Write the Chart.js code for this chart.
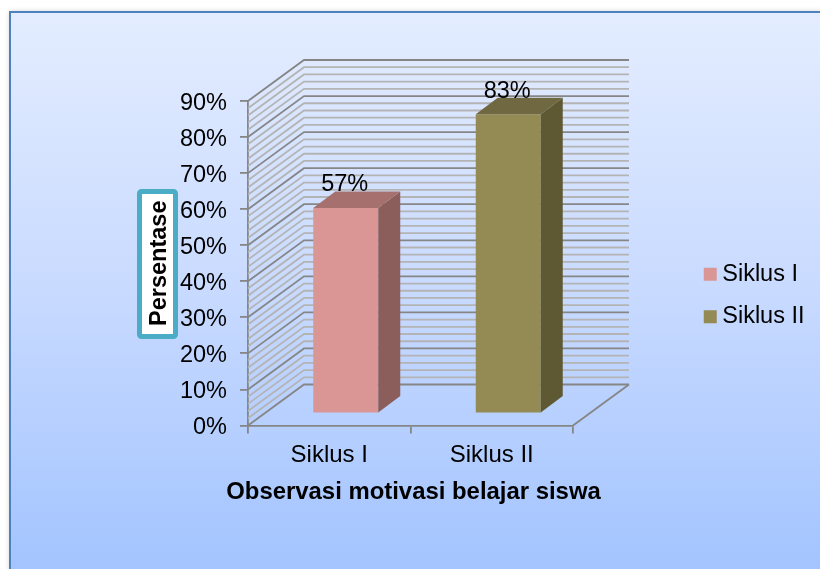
<!DOCTYPE html>
<html><head><meta charset="utf-8">
<style>html,body{margin:0;padding:0;background:#fff}canvas{display:block}</style>
<script src="https://cdn.jsdelivr.net/npm/chart.js@4"></script>
</head><body><canvas id="c" width="820" height="569"></canvas>
<script>
const categories = ["Siklus I", "Siklus II"];
const values = [57, 83];
const frontColors = ["#d99694", "#948a54"];
const sideColors = ["#8b5e5c", "#5e5833"];
const topColors = ["#a5706d", "#6f6840"];
const yAxisTitle = "Persentase";
const xAxisTitle = "Observasi motivasi belajar siswa";
const FONT = "'Liberation Sans', Arial, sans-serif";
const SIZE = 23.5;
const WALL = {dx: 56, dy: -41};
const BAR = {shiftX: 16.5, shiftY: -12, dx: 22, dy: -16.5};

const frame = {
  id: 'frame',
  beforeDraw(chart) {
    const c = chart.ctx;
    c.save();
    c.fillStyle = '#fff'; c.fillRect(0, 0, 820, 569);
    c.shadowColor = 'rgba(0,0,0,.25)'; c.shadowBlur = 5;
    const g = c.createLinearGradient(0, 12, 0, 569);
    g.addColorStop(0, '#e4edff'); g.addColorStop(0.5, '#c8daff'); g.addColorStop(1, '#a3c4ff');
    c.fillStyle = g; c.fillRect(10, 12, 830, 580);
    c.shadowColor = 'transparent';
    c.strokeStyle = '#4f81bd'; c.lineWidth = 2; c.strokeRect(10, 12, 830, 580);
    // axis title box
    c.fillStyle = '#fff'; c.strokeStyle = '#4bacc6'; c.lineWidth = 5;
    c.beginPath(); c.roundRect(139.5, 191.5, 36, 145, 2); c.fill(); c.stroke();
    c.restore();
  }
};
const walls = {
  id: 'walls',
  beforeDatasetsDraw(chart) {
    const c = chart.ctx, y = chart.scales.y, a = chart.chartArea;
    c.save();
    for (let v = 90; v >= 0; v -= 2) {
      const major = v % 10 === 0, p = y.getPixelForValue(v);
      c.strokeStyle = major ? '#868686' : '#b4b4b4';
      c.lineWidth = 1.8;
      c.beginPath();
      c.moveTo(a.left, p);
      c.lineTo(a.left + WALL.dx, p + WALL.dy);
      c.lineTo(a.right + WALL.dx, p + WALL.dy);
      c.stroke();
    }
    c.strokeStyle = '#868686'; c.lineWidth = 1.8;
    c.beginPath(); c.moveTo(a.right, a.bottom); c.lineTo(a.right + WALL.dx, a.bottom + WALL.dy); c.stroke();
    c.restore();
  },
  beforeDatasetDraw(chart) { chart.ctx.save(); chart.ctx.translate(BAR.shiftX, BAR.shiftY); },
  afterDatasetDraw(chart) {
    const c = chart.ctx;
    chart.getDatasetMeta(0).data.forEach((b, i) => {
      const l = b.x - b.width / 2, r = b.x + b.width / 2;
      c.fillStyle = sideColors[i];
      c.beginPath(); c.moveTo(r, b.y); c.lineTo(r + BAR.dx, b.y + BAR.dy); c.lineTo(r + BAR.dx, b.base + BAR.dy); c.lineTo(r, b.base); c.closePath(); c.fill();
      c.fillStyle = topColors[i];
      c.beginPath(); c.moveTo(l, b.y); c.lineTo(l + BAR.dx, b.y + BAR.dy); c.lineTo(r + BAR.dx, b.y + BAR.dy); c.lineTo(r, b.y); c.closePath(); c.fill();
    });
    c.restore();
  },
  afterDatasetsDraw(chart) {
    const c = chart.ctx;
    c.save();
    c.font = SIZE + 'px ' + FONT; c.fillStyle = '#000'; c.textAlign = 'center'; c.textBaseline = 'alphabetic';
    chart.getDatasetMeta(0).data.forEach((b, i) => {
      c.fillText(values[i] + '%', b.x + BAR.shiftX - 1, b.y + BAR.shiftY + BAR.dy);
    });
    c.restore();
  },
  afterLayout(chart) {
    const L = chart.legend;
    L.left = 691; L.right = 820; L.top = 243.5; L.bottom = 420;
    // the x axis title is wider than the axis: give it room so it is not squeezed
    const x = chart.scales.x, orig = x.drawTitle;
    x.drawTitle = function () {
      const l = this.left, r = this.right;
      this.left = l - 37; this.right = r + 43;
      orig.call(this);
      this.left = l; this.right = r;
    };
  }
};

new Chart(document.getElementById('c'), {
  type: 'bar',
  data: { labels: categories, datasets: [{ data: values, backgroundColor: frontColors, barPercentage: 1, categoryPercentage: 0.4 }] },
  plugins: [frame, walls],
  options: {
    responsive: false, animation: false,
    layout: { padding: { left: 145, top: 101, right: 246, bottom: 62 } },
    plugins: {
      tooltip: { enabled: false },
      legend: {
        position: 'right', align: 'start', maxWidth: 1,
        labels: {
          usePointStyle: true, pointStyle: 'rect', boxWidth: 0.5, boxHeight: 13, padding: 19,
          color: '#000', font: { family: FONT, size: SIZE },
          generateLabels: () => categories.map((t, i) => ({ text: t, fillStyle: frontColors[i], strokeStyle: frontColors[i], lineWidth: 0, pointStyle: 'rect', index: i, fontColor: '#000' }))
        }
      }
    },
    scales: {
      x: {
        afterFit(s) { s.height = 81.5; },
        border: { color: '#868686', width: 1.8 },
        grid: { offset: true, drawOnChartArea: false, tickLength: 8, color: '#868686', lineWidth: 1.8 },
        ticks: { color: '#000', font: { family: FONT, size: 24 }, padding: 7, maxRotation: 0 },
        title: { display: true, text: xAxisTitle, color: '#000', padding: 0, font: { family: FONT, size: 23.9, weight: 'bold' } }
      },
      y: {
        min: 0, max: 90,
        afterFit(s) { s.width = 103; },
        border: { color: '#868686', width: 1.8 },
        grid: { drawOnChartArea: false, tickLength: 8, color: '#868686', lineWidth: 1.8 },
        ticks: { stepSize: 10, color: '#000', padding: 13, labelOffset: 2.5, font: { family: FONT, size: SIZE }, callback: v => v + '%' },
        title: { display: true, text: yAxisTitle, color: '#000', padding: 0, font: { family: FONT, size: SIZE, weight: 'bold' } }
      }
    }
  }
});
</script></body></html>
